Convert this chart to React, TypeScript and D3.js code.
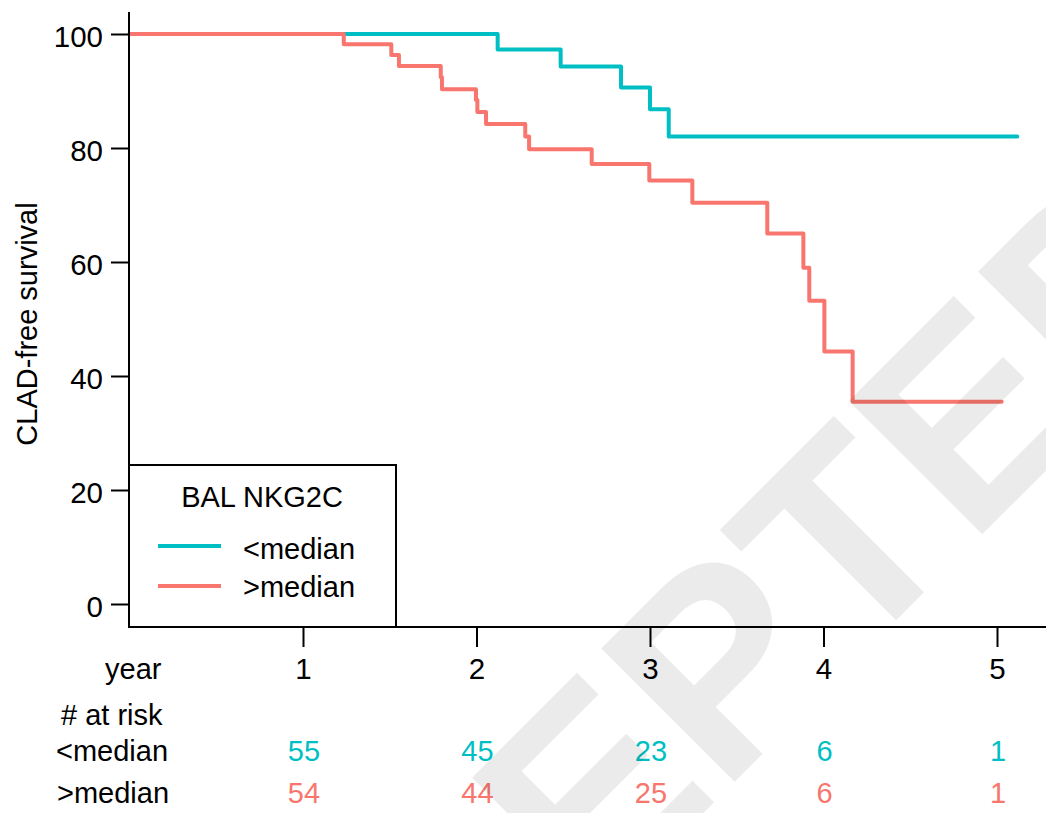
import React, { useEffect, useRef } from 'react';
import * as d3 from 'd3';

// Kaplan-Meier steps (time in years, survival in %)
const lowTimes = [0, 2.122, 2.485, 2.833, 3.0, 3.108, 5.117];
const lowSurv = [100, 97.3, 94.3, 90.6, 86.8, 82.0, 82.0];
const highTimes = [0, 1.235, 1.509, 1.553, 1.794, 1.801, 1.997, 2.005, 2.055, 2.281, 2.303,
    2.664, 2.996, 3.244, 3.676, 3.884, 3.918, 4.005, 4.168, 5.027];
const highSurv = [100, 98.2, 96.3, 94.4, 92.4, 90.3, 88.4, 86.3, 84.2, 82.0, 79.8,
    77.2, 74.3, 70.4, 65.0, 59.0, 53.2, 44.3, 35.5, 35.5];

const yearTicks = [1, 2, 3, 4, 5];
const survTicks = [0, 20, 40, 60, 80, 100];
const groupLabels = ['<median', '>median'];
const riskLow = [55, 45, 23, 6, 1];
const riskHigh = [54, 44, 25, 6, 1];

const TEAL = '#00BFC4';
const SALMON = '#F8766D';
const FONT = '"Liberation Sans", Arial, sans-serif';

export default function App() {
    const ref = useRef<SVGSVGElement | null>(null);

    useEffect(() => {
        const svg = d3.select(ref.current);
        svg.selectAll('*').remove();

        const x = d3.scaleLinear().domain([0, 5]).range([129.5, 997]);
        const y = d3.scaleLinear().domain([0, 100]).range([604, 34]);

        const g = svg.append('g').attr('font-family', FONT).attr('font-size', 29);

        // curves
        const line = d3.line<[number, number]>()
            .x(d => x(d[0]))
            .y(d => y(d[1]))
            .curve(d3.curveStepAfter);

        const series = [
            { t: lowTimes, s: lowSurv, color: TEAL },
            { t: highTimes, s: highSurv, color: SALMON },
        ];
        series.forEach(sr => {
            const pts = sr.t.map((t, i) => [t, sr.s[i]] as [number, number]);
            g.append('path')
                .attr('d', line(pts))
                .attr('fill', 'none')
                .attr('stroke', sr.color)
                .attr('stroke-width', 4)
                .attr('stroke-linejoin', 'round')
                .attr('stroke-linecap', 'round');
        });

        // axes lines
        g.append('line')
            .attr('x1', 129).attr('x2', 129).attr('y1', 12).attr('y2', 627)
            .attr('stroke', '#000').attr('stroke-width', 2);
        g.append('line')
            .attr('x1', 128).attr('x2', 1046).attr('y1', 627).attr('y2', 627)
            .attr('stroke', '#000').attr('stroke-width', 2);

        // y axis ticks
        const yAxis = g.append('g')
            .attr('transform', 'translate(129,0)')
            .call(d3.axisLeft(y).tickValues(survTicks).tickSize(18).tickSizeOuter(0)
                .tickFormat(d3.format('d')));
        yAxis.select('.domain').remove();
        yAxis.selectAll('line').attr('stroke-width', 2);
        yAxis.selectAll('text')
            .attr('font-size', 29.5).attr('font-family', FONT).attr('fill', '#000')
            .attr('x', -26).attr('dy', 12.5);

        // x axis ticks
        const xAxis = g.append('g')
            .attr('transform', 'translate(0,627)')
            .call(d3.axisBottom(x).tickValues(yearTicks).tickSize(20).tickSizeOuter(0)
                .tickFormat(d3.format('d')));
        xAxis.select('.domain').remove();
        xAxis.selectAll('line').attr('stroke-width', 2);
        xAxis.selectAll('text')
            .attr('font-size', 29.5).attr('font-family', FONT).attr('fill', '#000')
            .attr('y', 52).attr('dy', 0);

        // y label
        g.append('text')
            .attr('transform', 'translate(37,324) rotate(-90)')
            .attr('text-anchor', 'middle')
            .text('CLAD-free survival');

        // legend
        g.append('rect')
            .attr('x', 129).attr('y', 465).attr('width', 267).attr('height', 162)
            .attr('fill', '#fff').attr('stroke', '#000').attr('stroke-width', 2);
        g.append('text')
            .attr('x', 262).attr('y', 507).attr('text-anchor', 'middle')
            .text('BAL NKG2C');
        [TEAL, SALMON].forEach((c, i) => {
            g.append('line')
                .attr('x1', 158).attr('x2', 221)
                .attr('y1', 546 + i * 40).attr('y2', 546 + i * 40)
                .attr('stroke', c).attr('stroke-width', 4);
            g.append('text')
                .attr('x', 243).attr('y', 558.5 + i * 38)
                .text(groupLabels[i]);
        });

        // risk table
        g.append('text').attr('x', 105).attr('y', 679).text('year');
        g.append('text').attr('x', 61).attr('y', 725).text('# at risk');
        g.append('text').attr('x', 56).attr('y', 761).text(groupLabels[0]);
        g.append('text').attr('x', 57).attr('y', 803).text(groupLabels[1]);
        [riskLow, riskHigh].forEach((row, r) => {
            g.selectAll(null)
                .data(row).enter()
                .append('text')
                .attr('x', (d, i) => x(yearTicks[i]) + 1)
                .attr('y', r === 0 ? 761 : 803)
                .attr('text-anchor', 'middle')
                .attr('fill', r === 0 ? TEAL : SALMON)
                .text(d => d);
        });

        // watermark
        const wm = svg.append('g')
            .attr('opacity', 0.075)
            .attr('transform', 'translate(910.1,606.3) rotate(-45)');
        wm.append('text')
            .attr('x', -(3.5 + 0.306) * 274)
            .attr('y', 0)
            .attr('font-family', FONT)
            .attr('font-weight', 'bold')
            .attr('font-size', 274)
            .attr('fill', '#000')
            .text('ACCEPTED');
    }, []);

    return (
        <svg ref={ref} width={1046} height={813}
            style={{ position: 'absolute', left: 0, top: 0, background: '#fff' }} />
    );
}
